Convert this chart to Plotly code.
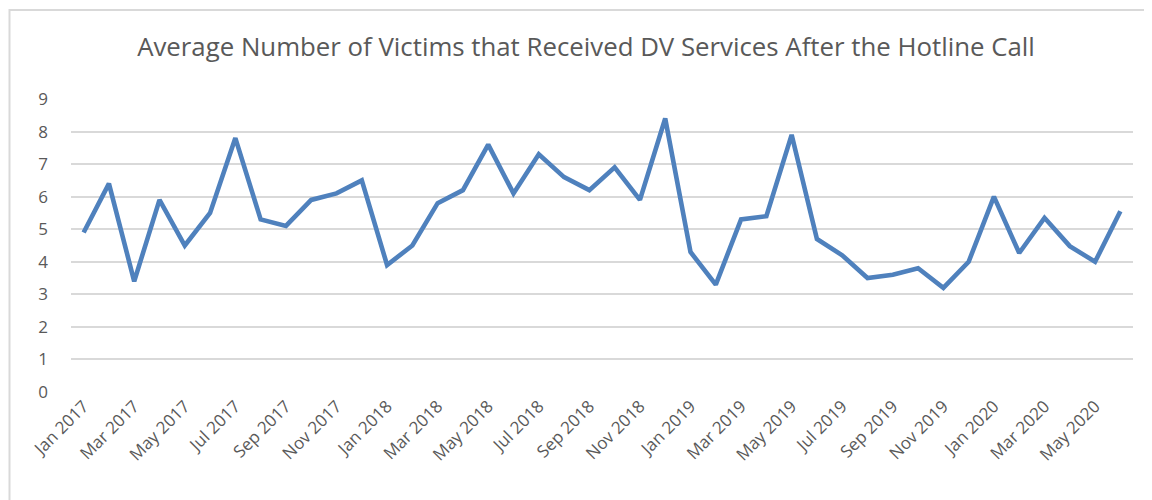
import plotly.graph_objects as go

months = ["Jan","Feb","Mar","Apr","May","Jun","Jul","Aug","Sep","Oct","Nov","Dec"]
categories = [f"{m} {y}" for y in (2017, 2018, 2019, 2020) for m in months][:42]

values = [4.9, 6.4, 3.4, 5.9, 4.5, 5.5, 7.8, 5.3, 5.1, 5.9, 6.1, 6.5,
          3.9, 4.5, 5.8, 6.2, 7.6, 6.1, 7.3, 6.6, 6.2, 6.9, 5.9, 8.4,
          4.3, 3.3, 5.3, 5.4, 7.9, 4.7, 4.2, 3.5, 3.6, 3.8, 3.2, 4.0,
          6.0, 4.27, 5.35, 4.48, 4.0, 5.55]

tick_labels = categories[::2]
title_text = "Average Number of Victims that Received DV Services After the Hotline Call"

idx = list(range(len(categories)))

fig = go.Figure()
fig.add_trace(go.Scatter(
    x=idx, y=values, mode="lines",
    line=dict(color="#4F81BD", width=4.6),
    hovertext=categories, hoverinfo="text+y",
))

# page body has an 8px margin; the figure is sized to fill the rest of the window
OFF = 8
W, H = 1152 - OFF, 500 - OFF
L, R, T, B = 71 - OFF, 19, 99 - OFF, 108
pw, ph = W - L - R, H - T - B

fig.update_layout(
    width=W, height=H,
    margin=dict(l=L, r=R, t=T, b=B, autoexpand=False),
    paper_bgcolor="white", plot_bgcolor="white",
    showlegend=False,
    font=dict(family="Open Sans, Noto Sans, sans-serif", color="#595959"),
    title=dict(text=title_text, x=(586 - 71) / pw, xref="paper", xanchor="center",
               y=1 - (47 - OFF) / H, yanchor="middle", automargin=False,
               font=dict(size=25.8, color="#595959", family="Open Sans, Noto Sans, sans-serif")),
    xaxis=dict(range=[-0.5, len(idx) - 0.5], tickmode="array",
               tickvals=idx[::2], ticktext=tick_labels, tickangle=-45,
               showgrid=False, zeroline=False, showline=False, automargin=False,
               tickfont=dict(size=17, color="#595959"), ticks=""),
    yaxis=dict(range=[0, 9], dtick=1, showgrid=True, gridcolor="#D9D9D9", gridwidth=1.5,
               zeroline=False, showline=False, ticks="", ticklabelstandoff=22,
               automargin=False,
               tickfont=dict(size=17, color="#595959")),
    shapes=[dict(type="rect", xref="paper", yref="paper",
                 x0=(1.5 - L) / pw, x1=(W + 20 - L) / pw,
                 y0=-(H + 20 - T - ph) / ph, y1=1 + (T - 2) / ph,
                 line=dict(color="#D9D9D9", width=2), layer="below")],
)

fig.write_html("out.html")
